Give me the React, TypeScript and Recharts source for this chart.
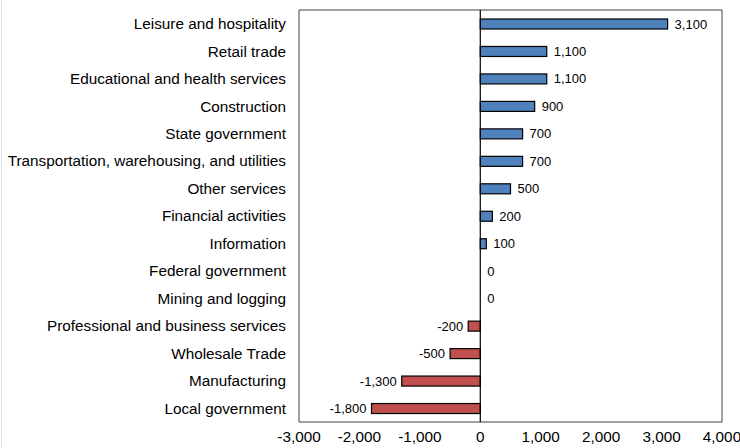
import React from "react";
import { BarChart, Bar, XAxis, YAxis, ReferenceLine, ReferenceArea } from "recharts";

const categories = [
  "Leisure and hospitality",
  "Retail trade",
  "Educational and health services",
  "Construction",
  "State government",
  "Transportation, warehousing, and utilities",
  "Other services",
  "Financial activities",
  "Information",
  "Federal government",
  "Mining and logging",
  "Professional and business services",
  "Wholesale Trade",
  "Manufacturing",
  "Local government",
];
const values = [3100, 1100, 1100, 900, 700, 700, 500, 200, 100, 0, 0, -200, -500, -1300, -1800];
const xTicks = [-3000, -2000, -1000, 0, 1000, 2000, 3000, 4000];

const data = categories.map((name, i) => ({ name, value: values[i] }));
const fmt = (v: number) => v.toLocaleString("en-US");
const FONT = "'Liberation Sans', Arial, sans-serif";

const BarShape = (props: any) => {
  const { x, y, width, height, value } = props;
  const v = Array.isArray(value) ? value[1] - value[0] : (props.payload?.value ?? value);
  const left = Math.min(x, x + width);
  const w = Math.abs(width);
  const neg = v < 0;
  const endX = neg ? left : left + w;
  return (
    <g>
      {w > 0 && (
        <rect x={left} y={y} width={w} height={height} fill={neg ? "#C0504D" : "#4F81BD"} stroke="#000" strokeWidth={1.2} />
      )}
      <text
        x={neg ? endX - 5 : endX + 7}
        y={y + height / 2}
        dy="0.35em"
        textAnchor={neg ? "end" : "start"}
        fontSize={13}
        fontFamily={FONT}
        fill="#000"
      >
        {fmt(v)}
      </text>
    </g>
  );
};

export default function App() {
  return (
    <div style={{ position: "absolute", left: 0, top: 0, width: 740, height: 448, background: "#fff", fontFamily: FONT }}>
      <div style={{ position: "absolute", left: 1, top: 0, width: 1, height: 448, background: "#e3e3e3" }} />
      <BarChart
        width={740}
        height={448}
        data={data}
        layout="vertical"
        margin={{ top: 10, right: 18, bottom: 0, left: 0 }}
        barCategoryGap={0}
      >
        <XAxis
          type="number"
          domain={[-3000, 4000]}
          ticks={xTicks}
          tickFormatter={fmt}
          axisLine={false}
          tickLine={false}
          tickSize={0}
          tickMargin={9}
          height={26}
          interval={0}
          tick={{ fontSize: 15.3, fill: "#000", fontFamily: FONT }}
        />
        <YAxis
          type="category"
          dataKey="name"
          width={299}
          axisLine={false}
          tickLine={false}
          tickSize={0}
          tickMargin={13}
          interval={0}
          tick={{ fontSize: 15.3, fill: "#000", fontFamily: FONT }}
        />
        <ReferenceArea x1={-3000} x2={4000} fill="none" stroke="#404040" strokeWidth={1} ifOverflow="visible" />
        <Bar dataKey="value" barSize={10} isAnimationActive={false} shape={BarShape} minPointSize={0} />
        <ReferenceLine x={0} stroke="#000" strokeWidth={1.2} />
      </BarChart>
    </div>
  );
}
